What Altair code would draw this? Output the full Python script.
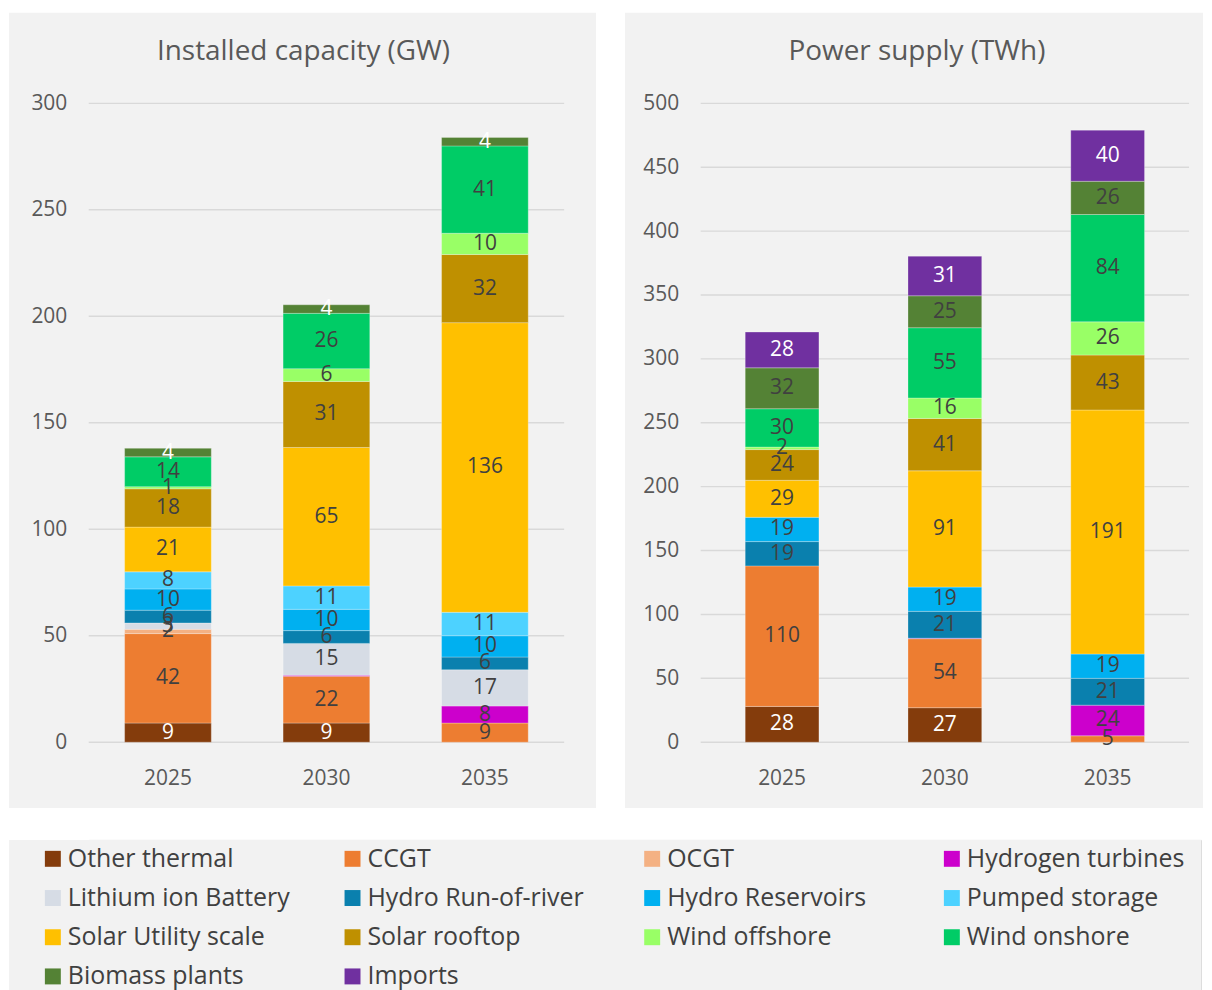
import json
import altair as alt
import pandas as pd

years = ["2025", "2030", "2035"]
categories = [
    "Other thermal", "CCGT", "OCGT", "Hydrogen turbines",
    "Lithium ion Battery", "Hydro Run-of-river", "Hydro Reservoirs", "Pumped storage",
    "Solar Utility scale", "Solar rooftop", "Wind offshore", "Wind onshore",
    "Biomass plants", "Imports",
]
colors = [
    "#843C0C", "#ED7D31", "#F4B183", "#CC00CC",
    "#D6DCE5", "#0A80AE", "#00B0F0", "#4DD2FF",
    "#FFC000", "#BF9000", "#99FF66", "#00CC66",
    "#548235", "#7030A0",
]

capacity_2025 = [9, 42, 2, 0, 3, 6, 10, 8, 21, 18, 1, 14, 4, 0]
capacity_2030 = [9, 22, 0, 0.4, 15, 6, 10, 11, 65, 31, 6, 26, 4, 0]
capacity_2035 = [0, 9, 0, 8, 17, 6, 10, 11, 136, 32, 10, 41, 4, 0]

supply_2025 = [28, 110, 0, 0, 0, 19, 19, 0, 29, 24, 2, 30, 32, 28]
supply_2030 = [27, 54, 0, 0.4, 0, 21, 19, 0, 91, 41, 16, 55, 25, 31]
supply_2035 = [0, 5, 0, 24, 0, 21, 19, 0, 191, 43, 26, 84, 26, 40]

capacity_ticks = [0, 50, 100, 150, 200, 250, 300]
supply_ticks = [0, 50, 100, 150, 200, 250, 300, 350, 400, 450, 500]

FONT = "Open Sans"
AXIS_COLOR = "#595959"
LABEL_DARK = "#404040"
BG = "#F2F2F2"
LEFT_EXT = 80          # left panel background extends this far left of the plot
TOTAL_RIGHT = 1116     # right edge of everything, relative to left plot origin


def make_df(series):
    rows = []
    for year, vals in zip(years, series):
        for i, (cat, v) in enumerate(zip(categories, vals)):
            rows.append({"year": year, "category": cat, "idx": i, "value": v})
    return pd.DataFrame(rows)


def panel(df, title, ymax, ticks, width, pad, bg_x, title_x, white_cats):
    height = 641
    y_scale = alt.Scale(domain=[0, ymax], nice=False, zero=True)
    x_scale = alt.Scale(domain=years, paddingInner=pad, paddingOuter=pad / 2)
    color_scale = alt.Scale(domain=categories, range=colors)
    y_axis = alt.Axis(title=None, values=ticks, domain=False, ticks=False, tickSize=0,
                      grid=False, labelPadding=22, labelFontSize=21,
                      labelColor=AXIS_COLOR, labelFont=FONT, zindex=2)
    x_axis = alt.Axis(title=None, labelAngle=0, domain=False, ticks=False, tickSize=0,
                      grid=False, labelPadding=25, labelFontSize=21,
                      labelColor=AXIS_COLOR, labelFont=FONT, zindex=2)

    one = pd.DataFrame({"k": [0]})
    bg = alt.Chart(one).mark_rect(color=BG).encode(
        x=alt.value(bg_x[0]), x2=alt.value(bg_x[1]),
        y=alt.value(-91), y2=alt.value(707),
    )
    ttl = alt.Chart(one).mark_text(
        text=title, fontSize=28, font=FONT, color=AXIS_COLOR,
        align="center", baseline="middle",
    ).encode(x=alt.value(title_x), y=alt.value(-51))

    grid = alt.Chart(pd.DataFrame({"v": ticks})).mark_rule(
        color="#D9D9D9", strokeWidth=1.4
    ).encode(y=alt.Y("v:Q", scale=y_scale, axis=y_axis))

    base = alt.Chart(df)
    bars = base.transform_filter("datum.value > 0").mark_bar(
        stroke="#FFFFFF", strokeWidth=0.6, strokeOpacity=0.45
    ).encode(
        x=alt.X("year:N", scale=x_scale, axis=x_axis, sort=years),
        y=alt.Y("value:Q", stack="zero", scale=y_scale, axis=y_axis),
        color=alt.Color("category:N", scale=color_scale, legend=None),
        order=alt.Order("idx:Q", sort="ascending"),
    )

    white_test = f"indexof({json.dumps(white_cats)}, datum.category) >= 0"
    labels = base.transform_stack(
        stack="value", groupby=["year"],
        sort=[alt.SortField("idx", order="ascending")], as_=["y0", "y1"],
    ).transform_calculate(
        mid="(datum.y0 + datum.y1) / 2",
        label="format(datum.value, '.0f')",
    ).transform_filter("datum.value >= 0.5").mark_text(
        fontSize=21, font=FONT, align="center", baseline="middle",
    ).encode(
        x=alt.X("year:N", scale=x_scale, axis=x_axis, sort=years),
        y=alt.Y("mid:Q", scale=y_scale, axis=y_axis),
        text="label:N",
        color=alt.condition(white_test, alt.value("#FFFFFF"), alt.value(LABEL_DARK)),
    )

    return alt.layer(bg, grid, bars, labels, ttl).properties(width=width, height=height)


cap_df = make_df([capacity_2025, capacity_2030, capacity_2035])
sup_df = make_df([supply_2025, supply_2030, supply_2035])

left = panel(cap_df, "Installed capacity (GW)", 300, capacity_ticks, 477, 0.453,
             (-LEFT_EXT, 509), 215.5, ["Other thermal", "Biomass plants", "Imports"])
right = panel(sup_df, "Power supply (TWh)", 500, supply_ticks, 490, 0.547,
              (-76, 504), 217, ["Other thermal", "Imports"])

top = alt.hconcat(left, right, spacing=27).resolve_scale(
    x="independent", y="independent", color="independent"
)

# Legend as its own small chart (origin aligned with the left panel's plot origin)
leg_df = pd.DataFrame({
    "category": categories,
    "col": [i % 4 for i in range(len(categories))],
    "row": [i // 4 for i in range(len(categories))],
})
sq0 = 44 - LEFT_EXT
lx = alt.Scale(domain=[0, 4], range=[sq0, sq0 + 4 * 300.67], nice=False, zero=False)
ly = alt.Scale(domain=[0, 3], range=[19, 137], nice=False, zero=False)
leg_bg = alt.Chart(pd.DataFrame({"k": [0]})).mark_rect(color=BG).encode(
    x=alt.value(-LEFT_EXT), x2=alt.value(TOTAL_RIGHT), y=alt.value(0), y2=alt.value(160)
)
leg_sq = alt.Chart(leg_df).mark_square(size=256, opacity=1).encode(
    x=alt.X("col:Q", scale=lx, axis=None),
    y=alt.Y("row:Q", scale=ly, axis=None),
    color=alt.Color("category:N", scale=alt.Scale(domain=categories, range=colors), legend=None),
)
leg_tx = alt.Chart(leg_df).mark_text(
    align="left", baseline="middle", dx=15, fontSize=25, font=FONT, color=LABEL_DARK
).encode(
    x=alt.X("col:Q", scale=lx, axis=None),
    y=alt.Y("row:Q", scale=ly, axis=None),
    text="category:N",
)
legend = alt.layer(leg_bg, leg_sq, leg_tx).properties(width=TOTAL_RIGHT, height=152)

chart = alt.vconcat(top, legend, spacing=30).resolve_scale(
    x="independent", y="independent", color="independent"
).properties(
    padding={"left": 0, "top": 2, "right": 0, "bottom": 0},
    background="#FFFFFF",
).configure_view(strokeWidth=0).configure(font=FONT)

chart.save("out.html", embed_options={"renderer": "svg", "actions": False})
